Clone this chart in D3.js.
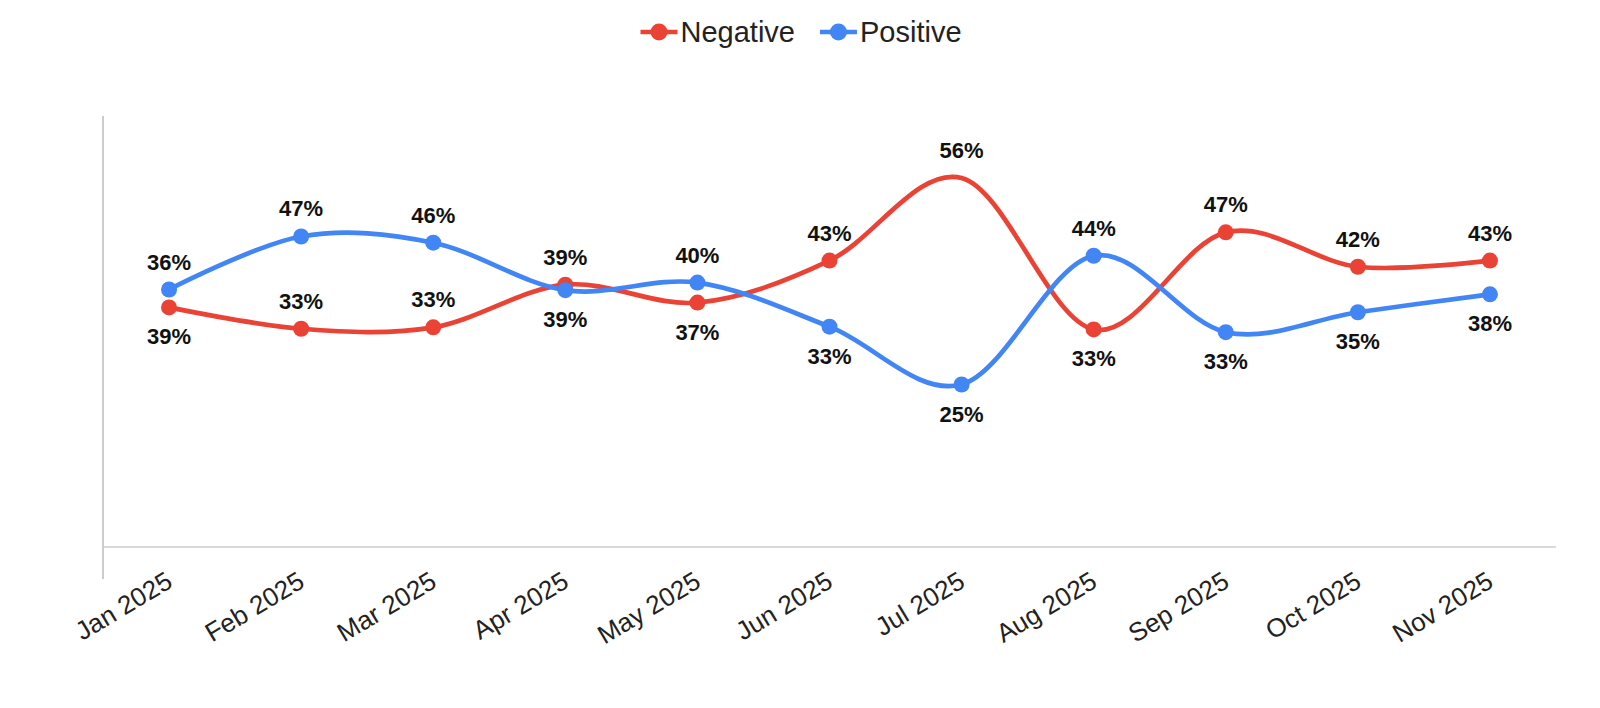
<!DOCTYPE html>
<html>
<head>
<meta charset="utf-8">
<script src="https://cdn.jsdelivr.net/npm/d3@7"></script>
<style>
  body { margin: 0; background: #fff; }
  svg { display: block; font-family: "Liberation Sans", Arial, sans-serif; }
</style>
</head>
<body>
<div id="chart"></div>
<script>
// months on the x axis
var months = ["Jan 2025", "Feb 2025", "Mar 2025", "Apr 2025", "May 2025", "Jun 2025",
              "Jul 2025", "Aug 2025", "Sep 2025", "Oct 2025", "Nov 2025"];

// plotted values (percent), read from the point positions
var negative = [36.2, 33.1, 33.3, 39.5, 36.9, 43.0, 55.0, 33.0, 47.1, 42.1, 43.0];
var positive = [38.8, 46.5, 45.6, 38.7, 39.8, 33.4, 25.0, 43.7, 32.6, 35.5, 38.1];

// data label text as shown on the chart
var negLabels = ["39%", "33%", "33%", "39%", "37%", "43%", "56%", "33%", "47%", "42%", "43%"];
var posLabels = ["36%", "47%", "46%", "39%", "40%", "33%", "25%", "44%", "33%", "35%", "38%"];

// which side of the point each label sits on
var negSide = ["below", "above", "above", "above", "below", "above", "above", "below", "above", "above", "above"];
var posSide = ["above", "above", "above", "below", "above", "below", "below", "above", "below", "below", "below"];

// points drawn without a dot
var negNoMarker = ["Jul 2025"];
var posNoMarker = [];

// y axis range (no tick labels shown)
var yMin = 1.4, yMax = 64;

var svgWidth = 1600;
var svgHeight = 708;

var chartMargin = {
    top: 116,
    right: 44,
    bottom: 161,
    left: 103
};

var chartWidth = svgWidth - chartMargin.left - chartMargin.right;
var chartHeight = svgHeight - chartMargin.top - chartMargin.bottom;

var svg = d3.select("#chart")
    .append("svg")
    .attr("width", svgWidth)
    .attr("height", svgHeight);

var chartGroup = svg.append("g")
    .attr("transform", `translate(${chartMargin.left}, ${chartMargin.top})`);

var x = d3.scaleBand().domain(months).range([0, chartWidth]);
var y = d3.scaleLinear().domain([yMin, yMax]).range([chartHeight, 0]);

var series = [
    { name: "Negative", color: "#EA4335", values: negative, labels: negLabels, side: negSide, noMarker: negNoMarker },
    { name: "Positive", color: "#4285F4", values: positive, labels: posLabels, side: posSide, noMarker: posNoMarker }
];

// axis lines
chartGroup.append("line")
    .attr("x1", 0).attr("x2", 0)
    .attr("y1", 0).attr("y2", chartHeight + 32)
    .attr("stroke", "#aaa")
    .attr("stroke-width", 1.2);

chartGroup.append("line")
    .attr("x1", 0).attr("x2", chartWidth)
    .attr("y1", chartHeight).attr("y2", chartHeight)
    .attr("stroke", "#ccc")
    .attr("stroke-width", 1.6);

// x axis tick labels, rotated
var xAxis = chartGroup.append("g")
    .attr("transform", `translate(0, ${chartHeight})`)
    .call(d3.axisBottom(x).tickSize(0).tickPadding(0));

xAxis.select(".domain").remove();
xAxis.selectAll("text")
    .attr("x", 0)
    .attr("y", 0)
    .attr("dy", null)
    .attr("text-anchor", "end")
    .attr("transform", "translate(5, 39) rotate(-31)")
    .attr("fill", "#222")
    .style("font-size", "26px")
    .style("font-family", "'Liberation Sans', Arial, sans-serif");

// smoothed lines
var line = d3.line()
    .x(function (d, i) { return x(months[i]) + x.bandwidth() / 2; })
    .y(function (d) { return y(d); })
    .curve(d3.curveCardinal.tension(0));

series.forEach(function (s) {
    chartGroup.append("path")
        .datum(s.values)
        .attr("fill", "none")
        .attr("stroke", s.color)
        .attr("stroke-width", 4.7)
        .attr("stroke-linejoin", "round")
        .attr("d", line);
});

series.forEach(function (s) {
    chartGroup.selectAll(null)
        .data(s.values.map(function (v, i) { return { m: months[i], v: v }; })
            .filter(function (d) { return s.noMarker.indexOf(d.m) < 0; }))
        .enter().append("circle")
        .attr("cx", function (d) { return x(d.m) + x.bandwidth() / 2; })
        .attr("cy", function (d) { return y(d.v); })
        .attr("r", 8)
        .attr("fill", s.color);
});

// data labels
series.forEach(function (s) {
    chartGroup.selectAll(null)
        .data(s.values.map(function (v, i) { return { m: months[i], v: v, t: s.labels[i], side: s.side[i] }; }))
        .enter().append("text")
        .attr("x", function (d) { return x(d.m) + x.bandwidth() / 2; })
        .attr("y", function (d) { return y(d.v) + (d.side === "above" ? -20 : 37); })
        .attr("text-anchor", "middle")
        .attr("font-size", "22px")
        .attr("font-weight", "bold")
        .attr("fill", "#111")
        .text(function (d) { return d.t; });
});

// legend, centred at the top
var legend = svg.append("g");
var lx = 0;
series.forEach(function (s, i) {
    var item = legend.append("g").attr("transform", `translate(${lx}, 0)`);
    item.append("line")
        .attr("x1", 0).attr("x2", 37)
        .attr("y1", 0).attr("y2", 0)
        .attr("stroke", s.color)
        .attr("stroke-width", 4.5);
    item.append("circle")
        .attr("cx", 18.5).attr("cy", 0).attr("r", 8.5)
        .attr("fill", s.color);
    var t = item.append("text")
        .attr("x", 40)
        .attr("y", 10)
        .attr("font-size", "29px")
        .attr("fill", "#222")
        .text(s.name);
    lx += 40 + t.node().getComputedTextLength() + 25;
});
var legendWidth = lx - 25;
legend.attr("transform", `translate(${(svgWidth - legendWidth) / 2 + 1}, 32)`);
</script>
</body>
</html>
